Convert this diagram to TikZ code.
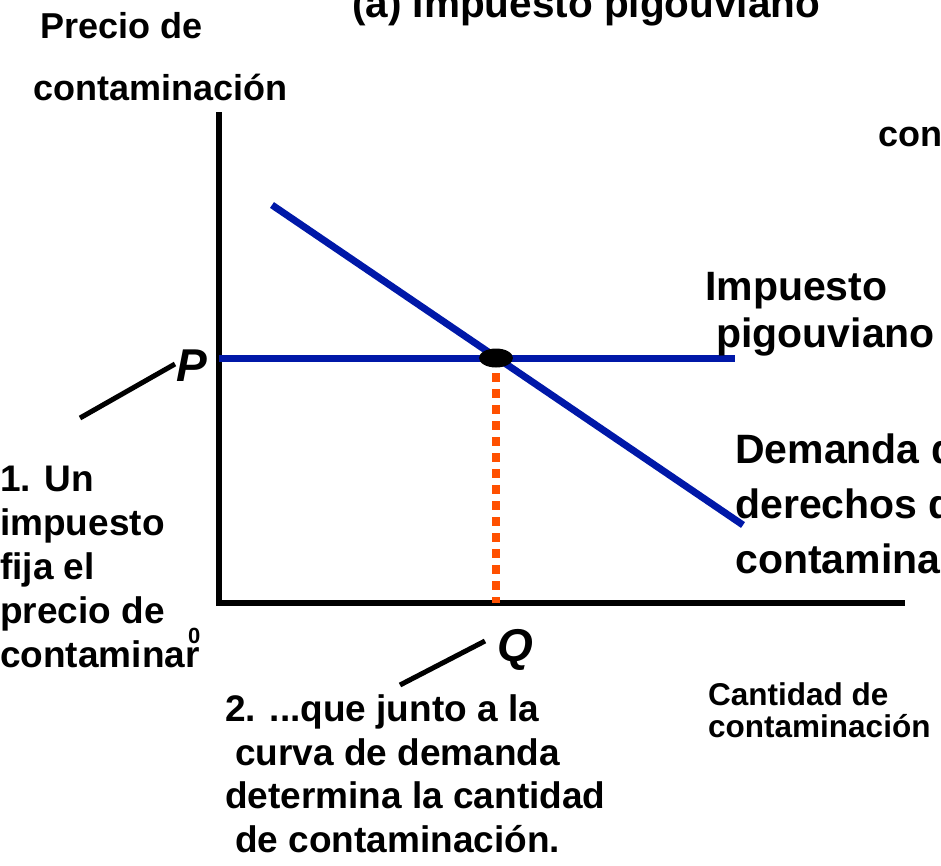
\documentclass[tikz,border=0pt]{standalone}
\usepackage{fontspec}
\setmainfont{Liberation Sans}
\usetikzlibrary{shapes.geometric}
\definecolor{curveblue}{RGB}{0, 24, 168}
\definecolor{dotorange}{RGB}{255, 80, 0}
\newcommand{\lblsize}[2]{\fontsize{#1}{#2}\selectfont\bfseries}

\tikzset{
  lbl/.style={anchor=base west, inner sep=0pt, align=left},
  curveline/.style={draw=curveblue, line width=7pt},
  callout/.style={draw=black, line width=5pt},
}

\begin{document}
\begin{tikzpicture}[x=1pt, y=-1pt]
  \path[use as bounding box, clip] (0,0) rectangle (941,865);

  % Titles and axis labels (node base = last line)
  \node[lbl, font=\lblsize{40.5}{48}] (title) at (352,17) {(a) Impuesto pigouviano};
  \node[lbl, font=\lblsize{36}{62}] (ylab) at (33,100) {\hspace{7pt}Precio de\\contaminación};
  \node[lbl, font=\lblsize{36}{44}] (con) at (878,146) {con};
  \node[lbl, font=\lblsize{31.5}{32}] (xlab) at (708,737) {Cantidad de\\contaminación};
  \node[lbl, font=\lblsize{22}{26}] (zero) at (188,643) {0};

  % Axes
  \coordinate (ytop) at (219,112);
  \coordinate (xend) at (905,603);
  \draw[line width=6pt, line join=miter] (ytop) |- (xend);

  % Tax and demand
  \coordinate (t0) at (219,358);
  \coordinate (t1) at (735,358);
  \coordinate (d0) at (272,205);
  \coordinate (d1) at (743,525);
  \draw[curveline] (t0) -- (t1);
  \draw[curveline] (d0) -- (d1);

  % Equilibrium
  \node[ellipse, fill=black, minimum width=34pt, minimum height=19pt, inner sep=0pt] (eq) at (496,358) {};
  \coordinate (qbase) at (496,603);
  \draw[dotorange, line width=8pt, dash pattern=on 9pt off 7pt] ([yshift=-15pt]eq.center) -- (qbase);

  % P and Q
  \node[lbl, font={\lblsize{46}{50}\itshape}] (plab) at (176,381) {P};
  \node[lbl, font={\lblsize{46}{50}\itshape}] (qlab) at (497,661) {Q};
  \coordinate (c1a) at (80,418);
  \coordinate (c1b) at (175,364);
  \draw[callout] (c1a) -- (c1b);
  \coordinate (c2a) at (400,685);
  \coordinate (c2b) at (485,641);
  \draw[callout] (c2a) -- (c2b);

  % Curve labels
  \node[lbl, font=\lblsize{41}{47}] (taxlab) at (705,347) {Impuesto\\\hspace{11pt}pigouviano};
  \node[lbl, font=\lblsize{41}{55}] (demlab) at (735,573) {Demanda de\\derechos de\\contaminación};

  % Notes
  \node[lbl, font=\lblsize{37}{44}] (note1) at (0,667) {1. Un\\impuesto\\fija el\\precio de\\contaminar};
  \node[lbl, font=\lblsize{37}{43.5}] (note2) at (225,852) {2. ...que junto a la\\\hspace{10pt}curva de demanda\\determina la cantidad\\\hspace{10pt}de contaminación.};
\end{tikzpicture}
\end{document}
